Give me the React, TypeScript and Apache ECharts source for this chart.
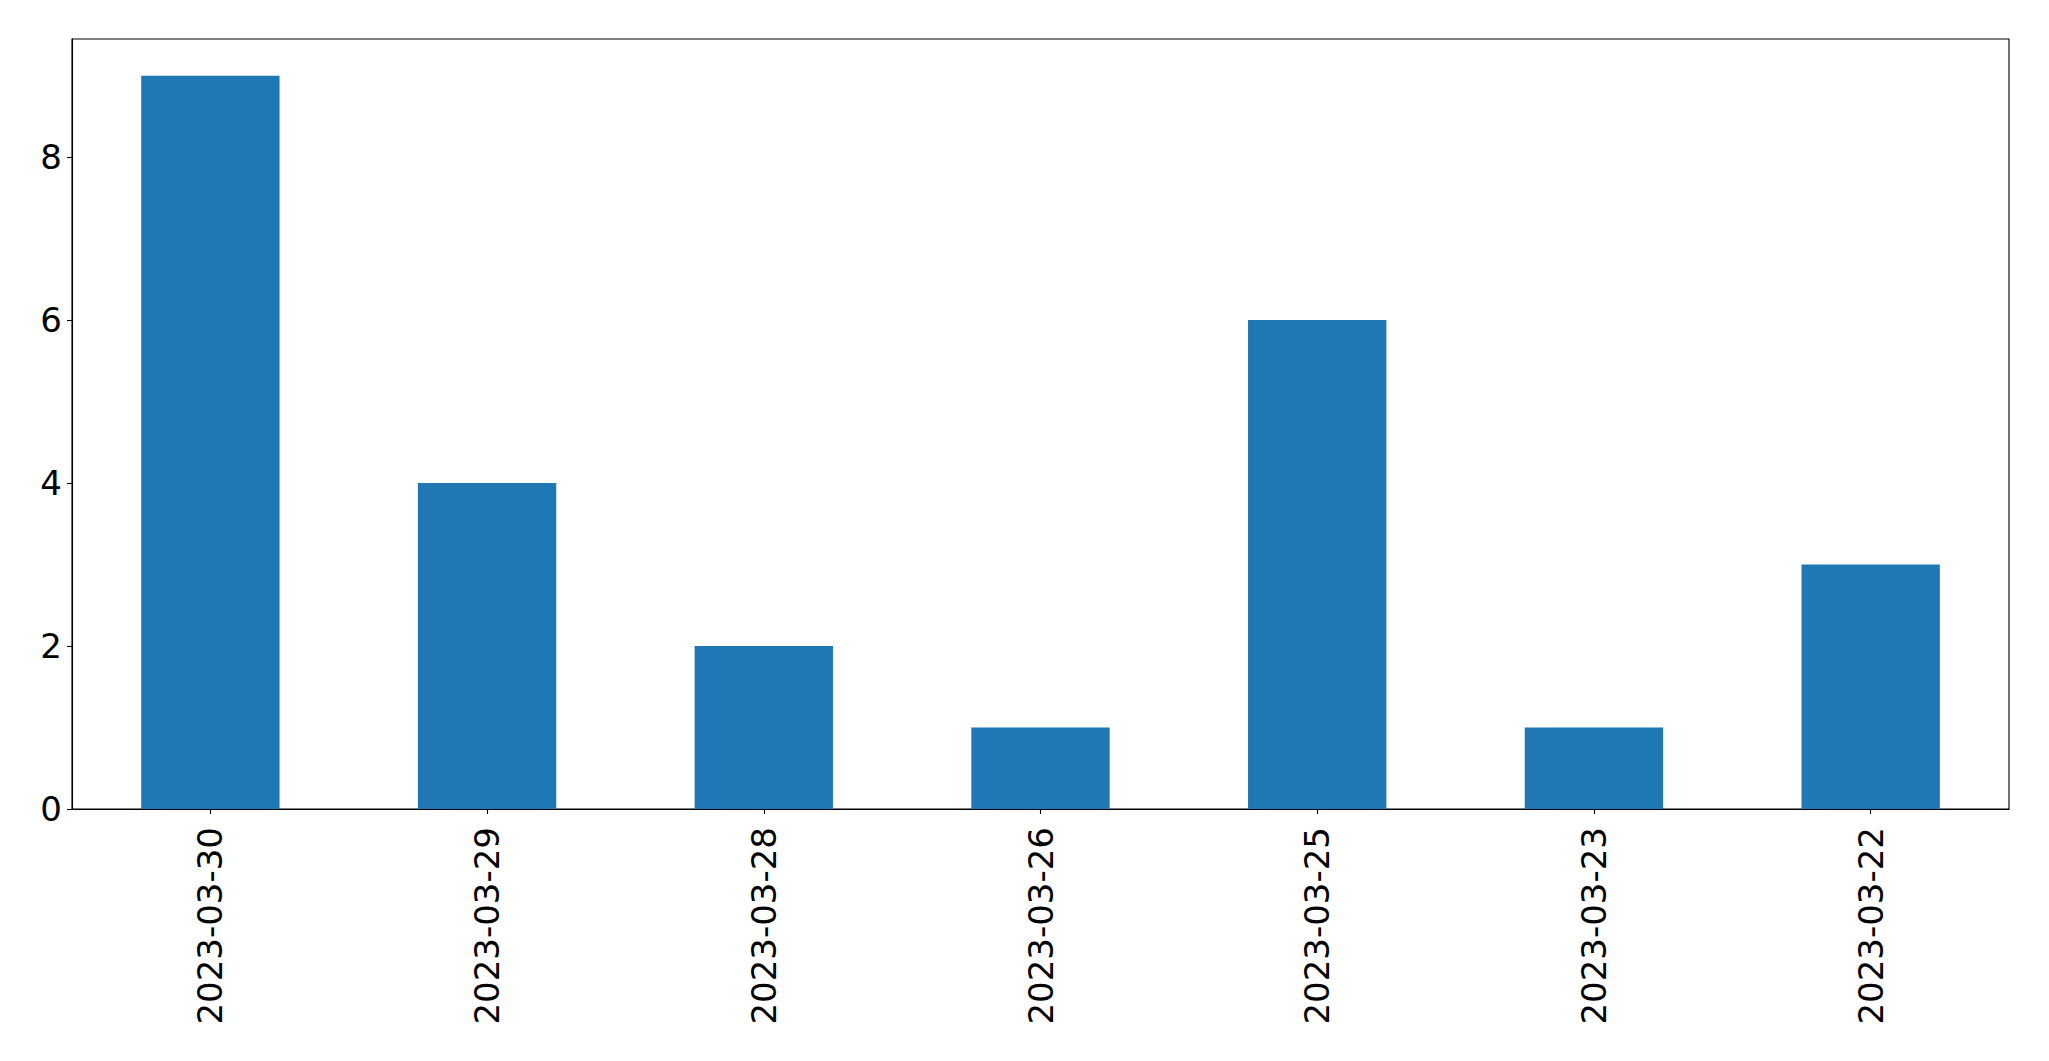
import React, { useEffect, useRef } from "react";
import * as echarts from "echarts";

const categories = ["2023-03-30", "2023-03-29", "2023-03-28", "2023-03-26", "2023-03-25", "2023-03-23", "2023-03-22"];
const values = [9, 4, 2, 1, 6, 1, 3];
const yTicks = [0, 2, 4, 6, 8];
const yMax = 9.45;

export default function App() {
  const ref = useRef<HTMLDivElement>(null);
  useEffect(() => {
    if (!ref.current) return;
    const chart = echarts.init(ref.current, null, { renderer: "svg" });
    const font = "DejaVu Sans";
    chart.setOption({
      animation: false,
      backgroundColor: "#ffffff",
      grid: {
        left: 72,
        right: 40,
        top: 39,
        bottom: 252,
        show: true,
        borderColor: "#000000",
        borderWidth: 1.1,
        backgroundColor: "transparent",
      },
      xAxis: {
        type: "category",
        data: categories,
        boundaryGap: true,
        axisLine: { show: true, lineStyle: { color: "#000000", width: 1.1 } },
        axisTick: { show: true, alignWithLabel: true, length: 5, lineStyle: { color: "#000000", width: 1.1 } },
        axisLabel: {
          rotate: 90,
          margin: 18,
          fontSize: 34,
          fontFamily: font,
          color: "#000000",
          interval: 0,
        },
        splitLine: { show: false },
      },
      yAxis: {
        type: "value",
        min: 0,
        max: yMax,
        axisLine: { show: true, lineStyle: { color: "#000000", width: 1.1 } },
        axisTick: { show: true, length: 5, customValues: yTicks, lineStyle: { color: "#000000", width: 1.1 } },
        axisLabel: {
          customValues: yTicks,
          margin: 10,
          fontSize: 34,
          fontFamily: font,
          color: "#000000",
        },
        splitLine: { show: false },
      },
      series: [
        {
          type: "bar",
          data: values,
          barWidth: "50%",
          itemStyle: { color: "#1f77b4" },
        },
      ],
    });
    return () => chart.dispose();
  }, []);
  return <div ref={ref} style={{ position: "fixed", left: 0, top: 0, width: 2049, height: 1061 }} />;
}
